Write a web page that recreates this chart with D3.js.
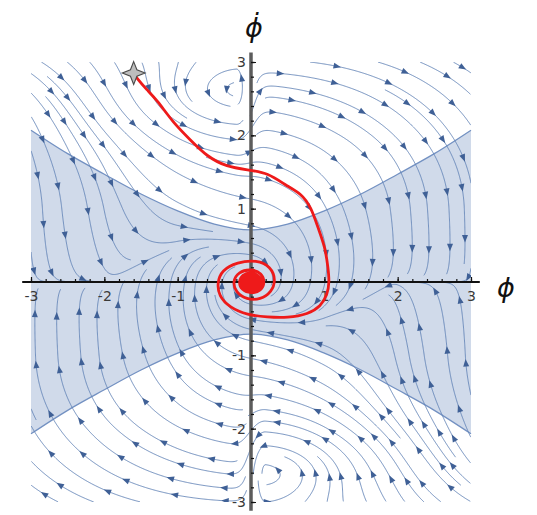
<!DOCTYPE html>
<html><head><meta charset="utf-8">
<script src="https://cdn.jsdelivr.net/npm/d3@7"></script>
<style>body{margin:0;background:#fff}</style>
</head><body>
<svg id="chart" width="537" height="515"></svg>
<script>
// ---------------- data ----------------
// direction field sampled on a 1-unit grid (rows: phiDot from 3 down to -3)
const gridPhi = [-3, -2, -1, 0, 1, 2, 3];
const gridPhiDot = [3, 2, 1, 0, -1, -2, -3];
const fieldU = [
  [ 0.88,  0.71,  0.96,  1.00,  0.99,  0.94,  0.86],
  [ 0.37,  0.61,  0.78,  1.00,  0.89,  0.71,  0.49],
  [ 0.04,  0.20,  0.89,  0.98,  0.45,  0.10,  0.03],
  [ 0.04,  0.10,  0.15,  0.00, -0.15, -0.10, -0.04],
  [-0.03, -0.10, -0.45, -0.98, -0.89, -0.20, -0.04],
  [-0.49, -0.71, -0.89, -1.00, -0.78, -0.61, -0.37],
  [-0.86, -0.94, -0.99, -1.00, -0.96, -0.71, -0.88]
];
const fieldV = [
  [-0.48, -0.71, -0.28,  0.00, -0.15, -0.33, -0.51],
  [-0.93, -0.79, -0.62, -0.10, -0.45, -0.71, -0.87],
  [-1.00, -1.00, -0.45, -0.20, -0.89, -1.00, -1.00],
  [ 0.00,  0.00,  0.80,  0.00, -0.80,  0.00,  0.00],
  [ 1.00,  1.00,  0.89,  0.20,  0.45,  1.00,  1.00],
  [ 0.87,  0.71,  0.45,  0.10,  0.62,  0.79,  0.93],
  [ 0.51,  0.33,  0.15,  0.00,  0.28,  0.71,  0.48]
];
// local eddies seen near (0, ±2.5)
const eddyPhi = [-0.2, 0.2];
const eddyPhiDot = [2.5, -2.5];
const eddyStrength = [4.5, 4.5];
const eddyReachLeft = [1.15, 0.2];
const eddyReachRight = [0.2, 1.15];
const eddyReachV = [0.55, 0.55];

// shaded region boundary
const boundaryPhi =   [-3, -2.5, -2, -1.5, -1, -0.5, 0, 0.5, 1, 1.5, 2, 2.5, 3];
const boundaryUpper = [2.07, 1.75, 1.47, 1.20, 0.97, 0.79, 0.71, 0.79, 0.97, 1.20, 1.47, 1.75, 2.07];
const boundaryLower = [-2.07, -1.75, -1.47, -1.20, -0.97, -0.79, -0.71, -0.79, -0.97, -1.20, -1.47, -1.75, -2.07];

// red trajectory
const trajPhi = [-1.60,-1.56,-1.42,-1.28,-1.06,-0.83,-0.60,-0.33,-0.05,0.23,0.50,0.68,0.82,0.91,1.01,1.05,1.07,1.04,0.95,0.78,0.50,0.22,-0.05,-0.29,-0.44,-0.46,-0.40,-0.19,0.08,0.27,0.34,0.28,0.13,-0.06,-0.21,-0.25,-0.17,0.00,0.15,
  0.19,0.14,0.00,-0.13,-0.17,-0.12,0.00,0.11,
  0.16,0.12,0.00,-0.11,-0.14,-0.10,0.00,0.09,
  0.13,0.10,0.00,-0.09,-0.11,-0.08,0.00,0.07,
  0.10,0.08,0.00,-0.07,-0.08,-0.06,0.00,0.05,
  0.07,0.05,0.00,-0.05,-0.06,-0.04,0.00,0.03,
  0.04,0.03,0.00,-0.02,-0.03,-0.02,0.00,0.01,0.00];
const trajPhiDot = [2.85,2.78,2.62,2.48,2.17,1.94,1.71,1.57,1.53,1.49,1.30,1.21,1.02,0.75,0.48,0.20,0.00,-0.18,-0.33,-0.44,-0.49,-0.48,-0.45,-0.35,-0.19,-0.01,0.16,0.27,0.30,0.21,0.03,-0.14,-0.24,-0.24,-0.14,0.01,0.14,0.18,0.12,
  -0.01,-0.12,-0.16,-0.11,0.00,0.10,0.14,0.09,
  -0.01,-0.10,-0.14,-0.10,0.00,0.09,0.12,0.08,
  0.00,-0.08,-0.11,-0.08,0.00,0.07,0.09,0.06,
  0.00,-0.06,-0.08,-0.06,0.00,0.05,0.07,0.04,
  0.00,-0.04,-0.06,-0.04,0.00,0.03,0.04,0.03,
  0.00,-0.02,-0.03,-0.02,0.00,0.01,0.02,0.01,0.00];
const startPhi = -1.60, startPhiDot = 2.85;

// axis ticks
const xTickValues = [-3, -2, -1, 1, 2, 3];
const xTickLabels = ["-3", "-2", "-1", "1", "2", "3"];
const yTickValues = [3, 2, 1, -1, -2, -3];
const yTickLabels = ["3", "2", "1", "-1", "-2", "-3"];
const minorStep = 0.2;

// ---------------- scales ----------------
const svg = d3.select("#chart");
const x = d3.scaleLinear().domain([-3, 3]).range([31, 471]);
const y = d3.scaleLinear().domain([-3, 3]).range([502, 62]);

// ---------------- field ----------------
function clamp(v, a, b) { return Math.max(a, Math.min(b, v)); }
function fieldAt(px, py) {
  const nx = gridPhi.length, ny = gridPhiDot.length;
  let i = clamp(Math.floor((px - gridPhi[0]) / (gridPhi[1] - gridPhi[0])), 0, nx - 2);
  let j = clamp(Math.floor((gridPhiDot[0] - py) / (gridPhiDot[0] - gridPhiDot[1])), 0, ny - 2);
  const tx = clamp((px - gridPhi[i]) / (gridPhi[i + 1] - gridPhi[i]), 0, 1);
  const ty = clamp((gridPhiDot[j] - py) / (gridPhiDot[j] - gridPhiDot[j + 1]), 0, 1);
  const bl = (M) => (M[j][i] * (1 - tx) + M[j][i + 1] * tx) * (1 - ty) + (M[j + 1][i] * (1 - tx) + M[j + 1][i + 1] * tx) * ty;
  let u = bl(fieldU), v = bl(fieldV);
  for (let k = 0; k < eddyPhi.length; k++) {
    const dx = px - eddyPhi[k], dy = py - eddyPhiDot[k];
    const ax = dx < 0 ? eddyReachLeft[k] : eddyReachRight[k];
    const ay = eddyReachV[k];
    const e = eddyStrength[k] * Math.exp(-(dx * dx / (ax * ax) + dy * dy / (ay * ay)));
    u += -e * dy / ay;
    v += e * (dx / ax) * (ay / ax);
  }
  return [u, v];
}
function dir(px, py) {
  const [u, v] = fieldAt(px, py);
  const m = Math.hypot(u, v);
  if (m < 1e-3) return null;
  return [u / m, v / m];
}
function rk2(px, py, hh) {
  const d1 = dir(px, py); if (!d1) return null;
  const mx = px + d1[0] * hh / 2, my = py + d1[1] * hh / 2;
  const d2 = dir(mx, my); if (!d2) return null;
  return [px + d2[0] * hh, py + d2[1] * hh];
}

// ---------------- evenly spaced streamlines ----------------
const dsep = 0.21, dtest = 0.5 * dsep, h = 0.012;
const selfGap = Math.ceil(2.5 * dtest / h);
const cellSize = dsep;
const hash = new Map();
const key = (cx, cy) => cx * 1000 + cy;
function addPt(p) {
  const cx = Math.floor((p.x + 3) / cellSize), cy = Math.floor((p.y + 3) / cellSize);
  const k = key(cx, cy);
  if (!hash.has(k)) hash.set(k, []);
  hash.get(k).push(p);
}
function removeLine(id) {
  for (const [k, arr] of hash) hash.set(k, arr.filter(p => p.id !== id));
}
function tooClose(px, py, d, id, kk) {
  const cx = Math.floor((px + 3) / cellSize), cy = Math.floor((py + 3) / cellSize);
  const r = Math.ceil(d / cellSize);
  for (let i = cx - r; i <= cx + r; i++) for (let j = cy - r; j <= cy + r; j++) {
    const arr = hash.get(key(i, j)); if (!arr) continue;
    for (const p of arr) {
      if (id !== undefined && p.id === id && Math.abs(p.k - kk) < selfGap) continue;
      const dx = p.x - px, dy = p.y - py;
      if (dx * dx + dy * dy < d * d) return true;
    }
  }
  return false;
}
const inside = (px, py) => px >= -3 && px <= 3 && py >= -3 && py <= 3;
let nextId = 0;
function trace(sx, sy) {
  const id = nextId++;
  const seed = { x: sx, y: sy, id, k: 0 };
  addPt(seed);
  const fwd = [], bwd = [];
  for (const sgn of [1, -1]) {
    let px = sx, py = sy;
    for (let s = 1; s < 3000; s++) {
      const n = rk2(px, py, sgn * h); if (!n) break;
      px = n[0]; py = n[1];
      if (!inside(px, py)) break;
      const kk = sgn * s;
      if (tooClose(px, py, dtest, id, kk)) break;
      const p = { x: px, y: py, id, k: kk };
      addPt(p);
      (sgn > 0 ? fwd : bwd).push(p);
    }
  }
  const pts = bwd.reverse().concat([seed], fwd);
  if (pts.length < 10) { removeLine(id); return null; }
  return pts;
}
const lines = [];
const queue = [];
function trySeed(sx, sy) {
  if (!inside(sx, sy)) return;
  if (tooClose(sx, sy, dsep * 0.98)) return;
  const l = trace(sx, sy);
  if (l) { lines.push(l); queue.push(l); }
}
function processQueue() {
  while (queue.length) {
    const l = queue.shift();
    for (let i = 0; i < l.length - 1; i += 4) {
      const dx = l[i + 1].x - l[i].x, dy = l[i + 1].y - l[i].y;
      const m = Math.hypot(dx, dy) || 1;
      const nx = -dy / m, ny = dx / m;
      trySeed(l[i].x + nx * dsep, l[i].y + ny * dsep);
      trySeed(l[i].x - nx * dsep, l[i].y - ny * dsep);
    }
  }
}
trySeed(-2.5, 2.7);
processQueue();
for (let gy = 2.95; gy >= -2.95; gy -= dsep / 2) {
  for (let gx = -2.95; gx <= 2.95; gx += dsep / 2) {
    trySeed(gx, gy);
    processQueue();
  }
}

// ---------------- drawing ----------------
svg.append("defs").append("clipPath").attr("id", "plotClip")
  .append("rect").attr("x", x(-3)).attr("y", y(3)).attr("width", x(3) - x(-3)).attr("height", y(-3) - y(3));

// shaded region
const area = d3.area()
  .x((d, i) => x(boundaryPhi[i]))
  .y0((d, i) => y(boundaryLower[i]))
  .y1((d, i) => y(boundaryUpper[i]))
  .curve(d3.curveCatmullRom);
svg.append("path").datum(boundaryPhi).attr("d", area)
  .attr("fill", "#d0daea").attr("stroke", "none");
const bLine = (arr) => d3.line().x((d, i) => x(boundaryPhi[i])).y((d, i) => y(arr[i])).curve(d3.curveCatmullRom);
svg.append("path").datum(boundaryPhi).attr("d", bLine(boundaryUpper)).attr("fill", "none").attr("stroke", "#7391c2").attr("stroke-width", 1.3);
svg.append("path").datum(boundaryPhi).attr("d", bLine(boundaryLower)).attr("fill", "none").attr("stroke", "#7391c2").attr("stroke-width", 1.3);

// streamlines
const gStream = svg.append("g").attr("clip-path", "url(#plotClip)");
const sLine = d3.line().x(d => x(d.x)).y(d => y(d.y));
gStream.selectAll("path.s").data(lines).join("path")
  .attr("d", sLine).attr("fill", "none")
  .attr("stroke", "#6283b6").attr("stroke-width", 1).attr("stroke-opacity", 0.9);

// arrowheads
const arrows = [];
for (const l of lines) {
  const px = l.map(p => [x(p.x), y(p.y)]);
  const cum = [0];
  for (let i = 1; i < px.length; i++) cum.push(cum[i - 1] + Math.hypot(px[i][0] - px[i - 1][0], px[i][1] - px[i - 1][1]));
  const L = cum[cum.length - 1];
  if (L < 14) continue;
  const n = Math.max(1, Math.floor(L / 48));
  for (let a = 0; a < n; a++) {
    const target = (a + 0.5) * L / n;
    let i = 1; while (i < cum.length - 1 && cum[i] < target) i++;
    const i0 = Math.max(0, i - 2), i1 = Math.min(px.length - 1, i + 1);
    const ang = Math.atan2(px[i1][1] - px[i0][1], px[i1][0] - px[i0][0]);
    arrows.push({ cx: px[i][0], cy: px[i][1], ang });
  }
}
gStream.selectAll("path.a").data(arrows).join("path")
  .attr("d", "M4,0L-3.5,-3L-3.5,3Z")
  .attr("transform", d => `translate(${d.cx},${d.cy}) rotate(${d.ang * 180 / Math.PI})`)
  .attr("fill", "#3f6096");

// axes
const gAx = svg.append("g");
gAx.append("line").attr("x1", x(-3.12)).attr("x2", x(3.12)).attr("y1", y(0)).attr("y2", y(0))
  .attr("stroke", "#111").attr("stroke-width", 2.2);
gAx.append("line").attr("x1", x(0)).attr("x2", x(0)).attr("y1", y(3.13)).attr("y2", y(-3.12))
  .attr("stroke", "#5c5c5c").attr("stroke-width", 3.5);

const minorVals = d3.range(-3, 3 + 1e-9, minorStep).map(v => +v.toFixed(2)).filter(v => Math.abs(v) > 1e-9);
const xMinor = d3.axisBottom(x).tickValues(minorVals).tickSize(-3).tickFormat("");
const xMajor = d3.axisBottom(x).tickValues(xTickValues).tickSize(-5).tickPadding(9)
  .tickFormat((d, i) => xTickLabels[i]);
const yMinor = d3.axisLeft(y).tickValues(minorVals).tickSize(-3).tickFormat("");
const yMajor = d3.axisLeft(y).tickValues(yTickValues).tickSize(-5).tickPadding(5)
  .tickFormat((d, i) => yTickLabels[i]);
function styleAxis(g) {
  g.select(".domain").remove();
  g.selectAll(".tick line").attr("stroke", "#111").attr("stroke-width", 1.2);
  g.selectAll(".tick text").attr("fill", "#3a3a3a").style("font-family", "DejaVu Sans, sans-serif").style("font-size", "14px");
}
svg.append("g").attr("transform", `translate(0,${y(0)})`).call(xMinor).call(styleAxis);
svg.append("g").attr("transform", `translate(0,${y(0)})`).call(xMajor).call(styleAxis);
svg.append("g").attr("transform", `translate(${x(0)},0)`).call(yMinor).call(styleAxis);
svg.append("g").attr("transform", `translate(${x(0)},0)`).call(yMajor).call(styleAxis);

// trajectory
svg.append("path").datum(trajPhi)
  .attr("d", d3.line().x((d, i) => x(trajPhi[i])).y((d, i) => y(trajPhiDot[i])).curve(d3.curveBasis))
  .attr("fill", "none").attr("stroke", "#ee1a1a").attr("stroke-width", 2.8)
  .attr("stroke-linejoin", "round").attr("stroke-linecap", "round");

// start marker (four-pointed star)
const star4 = {
  draw(ctx, size) {
    const r = Math.sqrt(size), ri = r * 0.4;
    for (let k = 0; k < 8; k++) {
      const a = -Math.PI / 2 + k * Math.PI / 4;
      const rr = k % 2 === 0 ? r : ri;
      const px = rr * Math.cos(a), py = rr * Math.sin(a);
      if (k === 0) ctx.moveTo(px, py); else ctx.lineTo(px, py);
    }
    ctx.closePath();
  }
};
svg.append("path").attr("d", d3.symbol(star4, 130)())
  .attr("transform", `translate(${x(startPhi)},${y(startPhiDot)})`)
  .attr("fill", "#bdbdbd").attr("stroke", "#4a4a4a").attr("stroke-width", 1.1);

// axis titles
svg.append("text").attr("x", 254).attr("y", 37).attr("text-anchor", "middle")
  .style("font-family", "DejaVu Sans, sans-serif").style("font-style", "italic").style("font-size", "27px")
  .attr("fill", "#111").text("\u03D5\u0307");
svg.append("text").attr("x", 506).attr("y", 297).attr("text-anchor", "middle")
  .style("font-family", "DejaVu Sans, sans-serif").style("font-style", "italic").style("font-size", "27px")
  .attr("fill", "#111").text("\u03D5");
</script>
</body></html>
